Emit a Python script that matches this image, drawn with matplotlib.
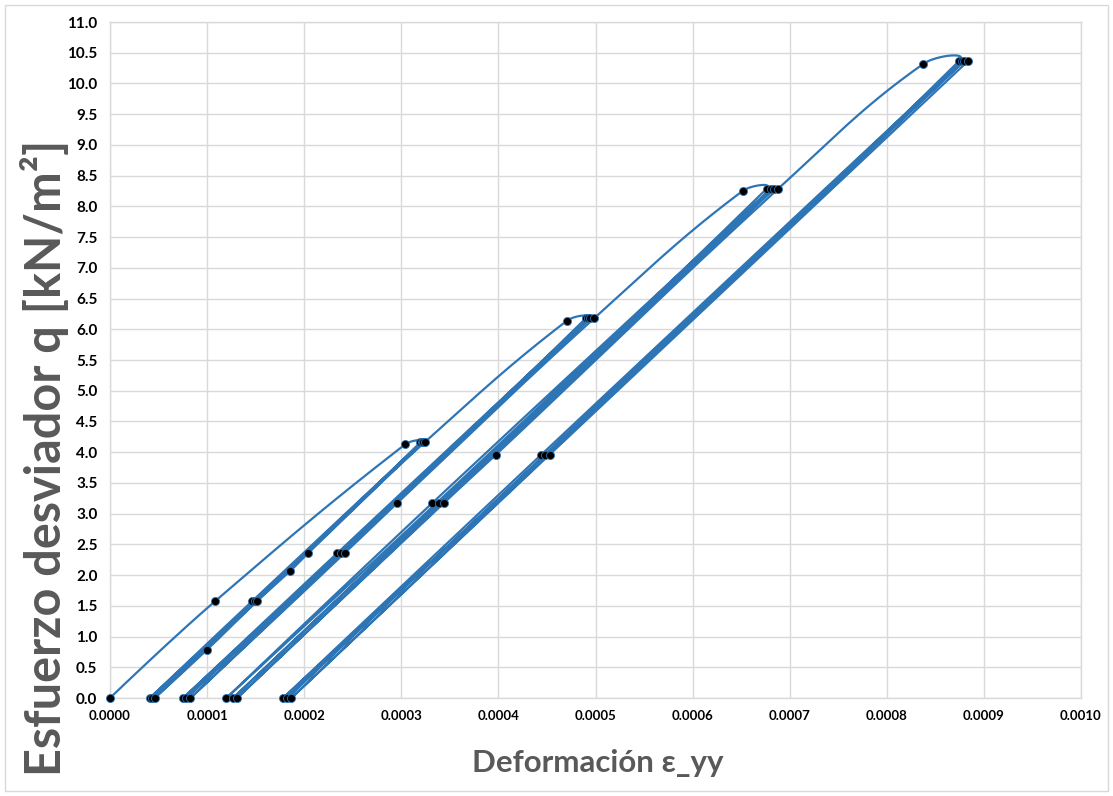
import numpy as np
import matplotlib
matplotlib.use("Agg")
import matplotlib.pyplot as plt
from matplotlib.patches import Rectangle

# ciclos de carga / descarga (deformacion, q en kN/m2)
eps_etapa1 = [0.0, 0.0001086, 0.0003042, 0.0003196, 0.0000410, 0.0001467, 0.0003210,
              0.0000434, 0.0001491, 0.0003225, 0.0000461, 0.0000995, 0.0001518,
              0.0001858, 0.0002043, 0.0003240]
q_etapa1 = [0.0, 1.58, 4.13, 4.16, 0.0, 1.58, 4.16, 0.0, 1.58, 4.16, 0.0, 0.78, 1.58,
            2.07, 2.36, 4.16]

eps_etapa2 = [0.0004706, 0.0004902, 0.0000753, 0.0002342, 0.0004925, 0.0000787,
              0.0002376, 0.0004946, 0.0000829, 0.0002418, 0.0002956, 0.0004987]
q_etapa2 = [6.14, 6.18, 0.0, 2.36, 6.18, 0.0, 2.36, 6.18, 0.0, 2.36, 3.17, 6.18]

eps_etapa3 = [0.0006514, 0.0006765, 0.0001199, 0.0003317, 0.0006810, 0.0001268,
              0.0003392, 0.0006840, 0.0001309, 0.0003436, 0.0003975, 0.0006884]
q_etapa3 = [8.25, 8.29, 0.0, 3.17, 8.29, 0.0, 3.17, 8.29, 0.0, 3.17, 3.96, 8.29]

eps_etapa4 = [0.0008377, 0.0008747, 0.0001783, 0.0004442, 0.0008775, 0.0001824,
              0.0004483, 0.0008799, 0.0001868, 0.0004527, 0.0008840]
q_etapa4 = [10.32, 10.37, 0.0, 3.96, 10.37, 0.0, 3.96, 10.37, 0.0, 3.96, 10.37]

ticks_x = np.arange(0, 0.00101, 0.0001)
ticks_y = np.arange(0, 11.01, 0.5)

azul = "#2E75B6"
gris = "#D9D9D9"
gris_texto = "#595959"

plt.rcParams["font.family"] = ["Lato", "DejaVu Sans"]


def suavizar(p, t=0.4, n=30):
    # curva tipo "lineas suavizadas" de excel (bezier), con esquinas en los giros bruscos
    N = len(p)
    tang = [None] * N
    for i in range(1, N - 1):
        a = p[i] - p[i - 1]
        b = p[i + 1] - p[i]
        cos = np.dot(a, b) / (np.linalg.norm(a) * np.linalg.norm(b) + 1e-9)
        if cos > -0.94:
            tang[i] = p[i + 1] - p[i - 1]
    s = np.linspace(0, 1, n)[:, None]
    tramos = []
    for i in range(N - 1):
        p0, p3 = p[i], p[i + 1]
        d1 = np.linalg.norm(p3 - p0)
        c1, c2 = p0.copy(), p3.copy()
        if tang[i] is not None:
            d0 = np.linalg.norm(p0 - p[i - 1])
            c1 = p0 + tang[i] * t * d1 / (d0 + d1)
        if tang[i + 1] is not None:
            d2 = np.linalg.norm(p[i + 2] - p3)
            c2 = p3 - tang[i + 1] * t * d1 / (d1 + d2)
        seg = ((1 - s) ** 3) * p0 + 3 * ((1 - s) ** 2) * s * c1 + 3 * (1 - s) * s ** 2 * c2 + s ** 3 * p3
        tramos.append(seg)
    return np.vstack(tramos)


fig = plt.figure(figsize=(11.13, 7.96), dpi=100)
fig.patches.append(Rectangle((5 / 1113, 5 / 796), 1103 / 1113, 786 / 796, transform=fig.transFigure,
                             fill=False, edgecolor=gris, lw=1.0))
ax = fig.add_axes([110 / 1113, 1 - 698 / 796, (1081 - 110) / 1113, (698 - 22) / 796])
ax.set_xlim(0, 0.001)
ax.set_ylim(0, 11)

eps = np.concatenate([eps_etapa1, eps_etapa2, eps_etapa3, eps_etapa4])
q = np.concatenate([q_etapa1, q_etapa2, q_etapa3, q_etapa4])

pix = ax.transData.transform(np.column_stack([eps, q]))
curva = ax.transData.inverted().transform(suavizar(pix))
ax.plot(curva[:, 0], curva[:, 1], color=azul, lw=1.6, solid_joinstyle="round", zorder=2)
ax.plot(eps, q, "o", ms=5.8, mfc="black", mec=azul, mew=0.6, clip_on=False, zorder=3)

ax.set_xticks(ticks_x)
ax.set_xticklabels([f"{v:.4f}" for v in ticks_x])
ax.set_yticks(ticks_y)
ax.set_yticklabels([f"{v:.1f}" for v in ticks_y])
ax.tick_params(axis="x", length=0, pad=9, labelsize=9.5)
ax.tick_params(axis="y", length=0, pad=9, labelsize=11)
for lab in ax.get_xticklabels() + ax.get_yticklabels():
    lab.set_fontweight("bold")
ax.grid(True, color=gris, lw=1.0)
ax.set_axisbelow(True)
for sp in ax.spines.values():
    sp.set_color(gris)
    sp.set_linewidth(1.0)

fig.text(598 / 1113, 1 - 763 / 796, "Deformación ε_yy", ha="center", va="center",
         fontsize=22.5, fontweight="bold", color=gris_texto)
fig.text(45 / 1113, 1 - 458 / 796, "Esfuerzo desviador q [kN/m²]", ha="center", va="center",
         rotation=90, fontsize=35, fontweight="bold", color=gris_texto)

fig.savefig("out.png", dpi=100)
